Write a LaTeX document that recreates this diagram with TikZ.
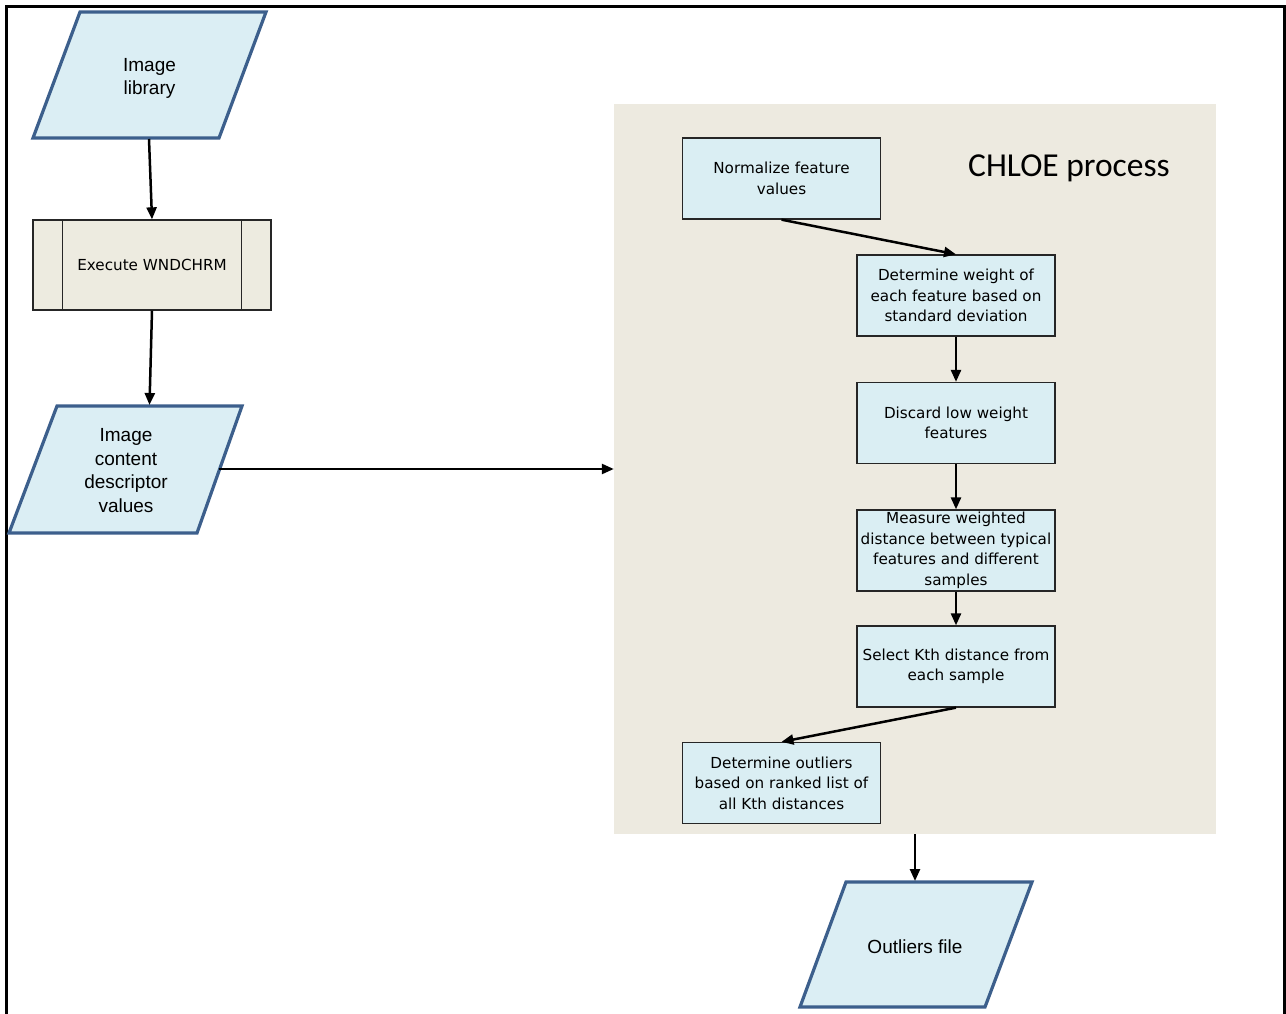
\documentclass[tikz,border=0pt]{standalone}
\usepackage{fontspec}
\setmainfont{DejaVu Sans}
\newfontfamily\arialf{Liberation Sans}
\newfontfamily\calib{Carlito}
\usetikzlibrary{arrows.meta,calc}
\definecolor{parafill}{HTML}{DBEEF4}
\definecolor{paraedge}{HTML}{3C5F8C}
\definecolor{boxfill}{HTML}{DAEEF3}
\definecolor{beige}{HTML}{EDEAE0}
\definecolor{procfill}{HTML}{EDEBE0}
\begin{document}
\begin{tikzpicture}[x=1pt,y=-1pt,
  para/.style={draw=paraedge, line width=3.2pt, fill=parafill, line join=miter},
  paratext/.style={font=\arialf\fontsize{19}{23.5}\selectfont, align=center, inner sep=0pt},
  box/.style={draw=black!85, line width=1.3pt, fill=boxfill, minimum width=198pt, minimum height=81pt, inner sep=0pt, align=center, font=\fontsize{15.2}{20.6}\selectfont},
  proc/.style={draw=black!85, line width=1.3pt, fill=procfill, minimum width=238pt, minimum height=90pt, inner sep=0pt, align=center, font=\fontsize{15.2}{20.6}\selectfont},
  bgbox/.style={fill=beige, draw=none, minimum width=602pt, minimum height=730pt, inner sep=0pt},
  arr/.style={line width=2.5pt, -{Triangle[length=12pt,width=10pt]}}
]
\useasboundingbox (0,0) rectangle (1286,1014);
\fill[white] (0,0) rectangle (1286,1014);
% frame
\draw[line width=3pt] (6,1014) -- (6,7) -- (1284,7) -- (1284,1014);

% background of CHLOE process
\node[bgbox] (bg) at (915,469) {};
\node[font=\calib\fontsize{33.5}{38}\selectfont, anchor=center, inner sep=0pt] (title) at (1069,168) {CHLOE process};

% Image library parallelogram
\draw[para] (80,12) -- (266,12) -- (219,138) -- (33,138) -- cycle;
\node[paratext] (lib) at (149.5,78.5) {Image\\library};
\coordinate (libS) at (149,139);

% Execute WNDCHRM
\node[proc] (wnd) at (152,265) {Execute WNDCHRM};
\draw[draw=black!85, line width=1.3pt] ($(wnd.north west)+(30,0)$) -- ($(wnd.south west)+(30,0)$);
\draw[draw=black!85, line width=1.3pt] ($(wnd.north east)+(-30,0)$) -- ($(wnd.south east)+(-30,0)$);

% Image content descriptor values
\draw[para] (57,406) -- (242,406) -- (197,533) -- (9,533) -- cycle;
\node[paratext] (icd) at (126,470.5) {Image\\content\\descriptor\\values};
\coordinate (icdN) at (149.5,405);
\coordinate (icdE) at (219,469);

% Outliers file
\draw[para] (846,882) -- (1032,882) -- (985,1007) -- (800,1007) -- cycle;
\node[paratext] (out) at (915,946.5) {Outliers file};
\coordinate (outN) at (915,881);

% process boxes
\node[box] (n1) at (781.5,178.5) {Normalize feature\\values};
\node[box] (n2) at (956,295.5) {Determine weight of\\each feature based on\\standard deviation};
\node[box] (n3) at (956,423) {Discard low weight\\features};
\node[box] (n4) at (956,550.5) {Measure weighted\\distance between typical\\features and different\\samples};
\node[box] (n5) at (956,666.5) {Select Kth distance from\\each sample};
\node[box] (n6) at (781.5,783) {Determine outliers\\based on ranked list of\\all Kth distances};

% connectors
\draw[arr] (libS) -- (wnd.north);
\draw[arr] (wnd.south) -- (icdN);
\draw[arr] (icdE) -- (bg.west);
\draw[arr] (n1.south) -- (n2.north);
\draw[arr] (n2.south) -- (n3.north);
\draw[arr] (n3.south) -- (n4.north);
\draw[arr] (n4.south) -- (n5.north);
\draw[arr] (n5.south) -- (n6.north);
\draw[arr] (bg.south) -- (outN);
\end{tikzpicture}
\end{document}
